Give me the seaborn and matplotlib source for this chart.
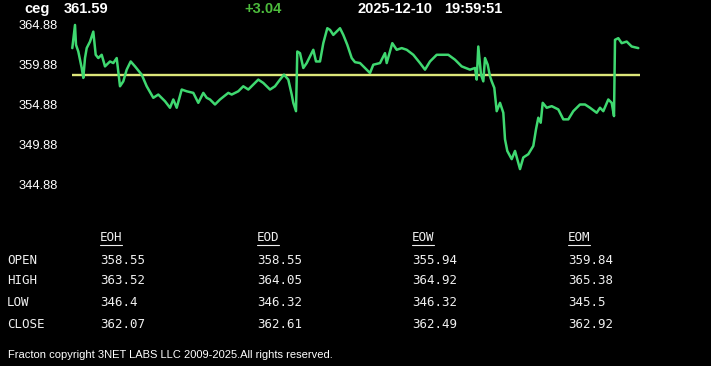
import matplotlib
matplotlib.use("Agg")
import matplotlib.pyplot as plt
import seaborn as sns
import pandas as pd
from matplotlib.lines import Line2D

# ---------------- data ----------------
symbol = "ceg"
last_price = "361.59"
change = "+3.04"
date_str = "2025-12-10"
time_str = "19:59:51"
open_level = 358.55

minutes = [0.3, 1.3, 3, 4, 6.3, 9.7, 11.3, 13, 14.7, 18, 21.3, 23.7, 26.3, 29.7, 33, 38,
           41.3, 44.7, 46.3, 48, 51.3, 54.7, 58.7, 63, 69.7, 74.7, 81.3, 86.3, 93, 98,
           101.3, 104.7, 109.7, 114.7, 121.3, 126.3, 131.3, 134.7, 138, 143, 148, 156.3,
           159.7, 166.3, 171.3, 176.3, 181.3, 186.3, 191.3, 198, 203, 208, 212, 216.3,
           219.7, 221.3, 224, 225.3, 228, 231.3, 234.7, 238, 241.3, 244, 248, 251.3,
           255.3, 258, 261.3, 268, 271.3, 275.3, 279.7, 283, 288, 293, 298, 301.3, 308,
           313, 314.7, 320.3, 324.7, 329.7, 334.7, 341.3, 348, 353, 358, 364.7, 369.7,
           376.3, 383, 389.7, 398, 403, 404.7, 406.3, 409, 411.3, 413, 415.7, 418, 419.7,
           422.3, 424.7, 428, 431.3, 433, 435.3, 439.7, 443, 448, 451.3, 456.3, 461.3,
           464, 466.3, 468.7, 470.7, 474.7, 479.7, 486.3, 491.3, 496.3, 501.3, 508, 513,
           518, 524.7, 528, 531.3, 536.3, 539.7, 542, 543, 546.3, 549.7, 554.7, 559.7,
           566.3]
prices = [361.97, 363.01, 364.88, 362.38, 361.54, 359.47, 358.22, 360.72, 361.97, 362.79,
          364.04, 361.13, 360.72, 361.13, 359.67, 360.29, 360.09, 360.72, 359.04, 357.17,
          357.79, 359.26, 360.29, 359.67, 358.63, 357.17, 355.72, 356.13, 355.29, 354.47,
          355.51, 354.47, 356.76, 356.54, 356.34, 355.09, 356.34, 355.72, 355.51, 354.88,
          355.51, 356.34, 356.13, 356.54, 357.17, 356.76, 357.38, 358.01, 357.59, 356.76,
          357.17, 358.01, 358.63, 358.01, 356.13, 355.09, 354.04, 361.54, 361.34, 359.47,
          360.09, 360.92, 361.76, 360.29, 360.29, 362.59, 364.47, 364.26, 363.63, 364.47,
          363.63, 362.38, 360.72, 360.20, 360.09, 359.47, 358.84, 359.88, 360.09, 361.34,
          360.09, 362.59, 361.76, 361.97, 361.76, 361.13, 360.09, 359.26, 360.29, 361.13,
          361.13, 361.13, 360.51, 359.67, 359.26, 359.47, 358.01, 362.17, 358.63, 357.79,
          360.72, 359.88, 358.42, 357.79, 356.97, 354.04, 355.09, 353.84, 350.51, 349.04,
          348.01, 349.04, 346.76, 348.22, 348.63, 349.67, 351.76, 353.22, 352.59, 355.09,
          354.47, 354.67, 354.26, 353.01, 353.01, 354.04, 354.88, 354.88, 354.47, 353.84,
          354.47, 354.04, 355.51, 355.09, 353.42, 363.01, 363.22, 362.59, 362.79, 362.17,
          361.97]

ytick_values = [364.88, 359.88, 354.88, 349.88, 344.88]

col_headers = ["EOH", "EOD", "EOW", "EOM"]
row_labels = ["OPEN", "HIGH", "LOW", "CLOSE"]
open_vals = ["358.55", "358.55", "355.94", "359.84"]
high_vals = ["363.52", "364.05", "364.92", "365.38"]
low_vals = ["346.4", "346.32", "346.32", "345.5"]
close_vals = ["362.07", "362.61", "362.49", "362.92"]
footer = "Fracton copyright 3NET LABS LLC 2009-2025.All rights reserved."

# ---------------- figure ----------------
sns.set_style("dark")
plt.rcParams['font.family'] = ['Liberation Sans', 'DejaVu Sans']

W, H = 711, 366
fig = plt.figure(figsize=(W / 100, H / 100), dpi=100, facecolor="black")

def fx(px):
    return px / W

def fy(py):
    return 1 - py / H

ax = fig.add_axes([fx(72), fy(190), fx(640) - fx(72), fy(17) - fy(190)])
ax.set_facecolor("black")

df = pd.DataFrame({"minute": minutes, "price": prices})
ax.axhline(open_level, color="#dde67a", lw=1.7, zorder=2)
sns.lineplot(data=df, x="minute", y="price", ax=ax, color="#3fd870", lw=1.8,
             zorder=3, clip_on=False)

ax.set_xlim(0, 568)
ax.set_ylim(344.13, 365.88)
ax.set_xticks([])
ax.set_yticks(ytick_values)
ax.set_yticklabels([f"{v:.2f}" for v in ytick_values], color="white", fontsize=9.3)
ax.tick_params(axis="y", length=0, pad=10)
ax.set_xlabel("")
ax.set_ylabel("")
ax.grid(False)
for s in ax.spines.values():
    s.set_visible(False)

# header
hdr = dict(fontsize=10.5, fontweight="bold", va="center", ha="left")
fig.text(fx(24), fy(9), symbol, color="white", **hdr)
fig.text(fx(64), fy(9), last_price, color="white", **hdr)
fig.text(fx(244), fy(9), change, color="#4cbb3c", **hdr)
fig.text(fx(357), fy(9), date_str, color="white", **hdr)
fig.text(fx(444), fy(9), time_str, color="white", **hdr)

# table
mono = dict(family="DejaVu Sans Mono", fontsize=9, color="#f0f0f0", va="center", ha="left")
col_x = [100, 257, 412, 568]
row_y = [260, 281, 303, 325]
for cx, h in zip(col_x, col_headers):
    fig.text(fx(cx), fy(238), h, **mono)
    fig.add_artist(Line2D([fx(cx), fx(cx + 22)], [fy(245), fy(245)], color="#f0f0f0", lw=0.8))
for ry, lab in zip(row_y, row_labels):
    fig.text(fx(7), fy(ry), lab, **mono)
for vals, ry in zip([open_vals, high_vals, low_vals, close_vals], row_y):
    for cx, v in zip(col_x, vals):
        fig.text(fx(cx), fy(ry), v, **mono)

fig.text(fx(8), fy(355.5), footer, color="white", fontsize=8, va="center", ha="left")

fig.savefig("out.png", dpi=100, facecolor="black")
